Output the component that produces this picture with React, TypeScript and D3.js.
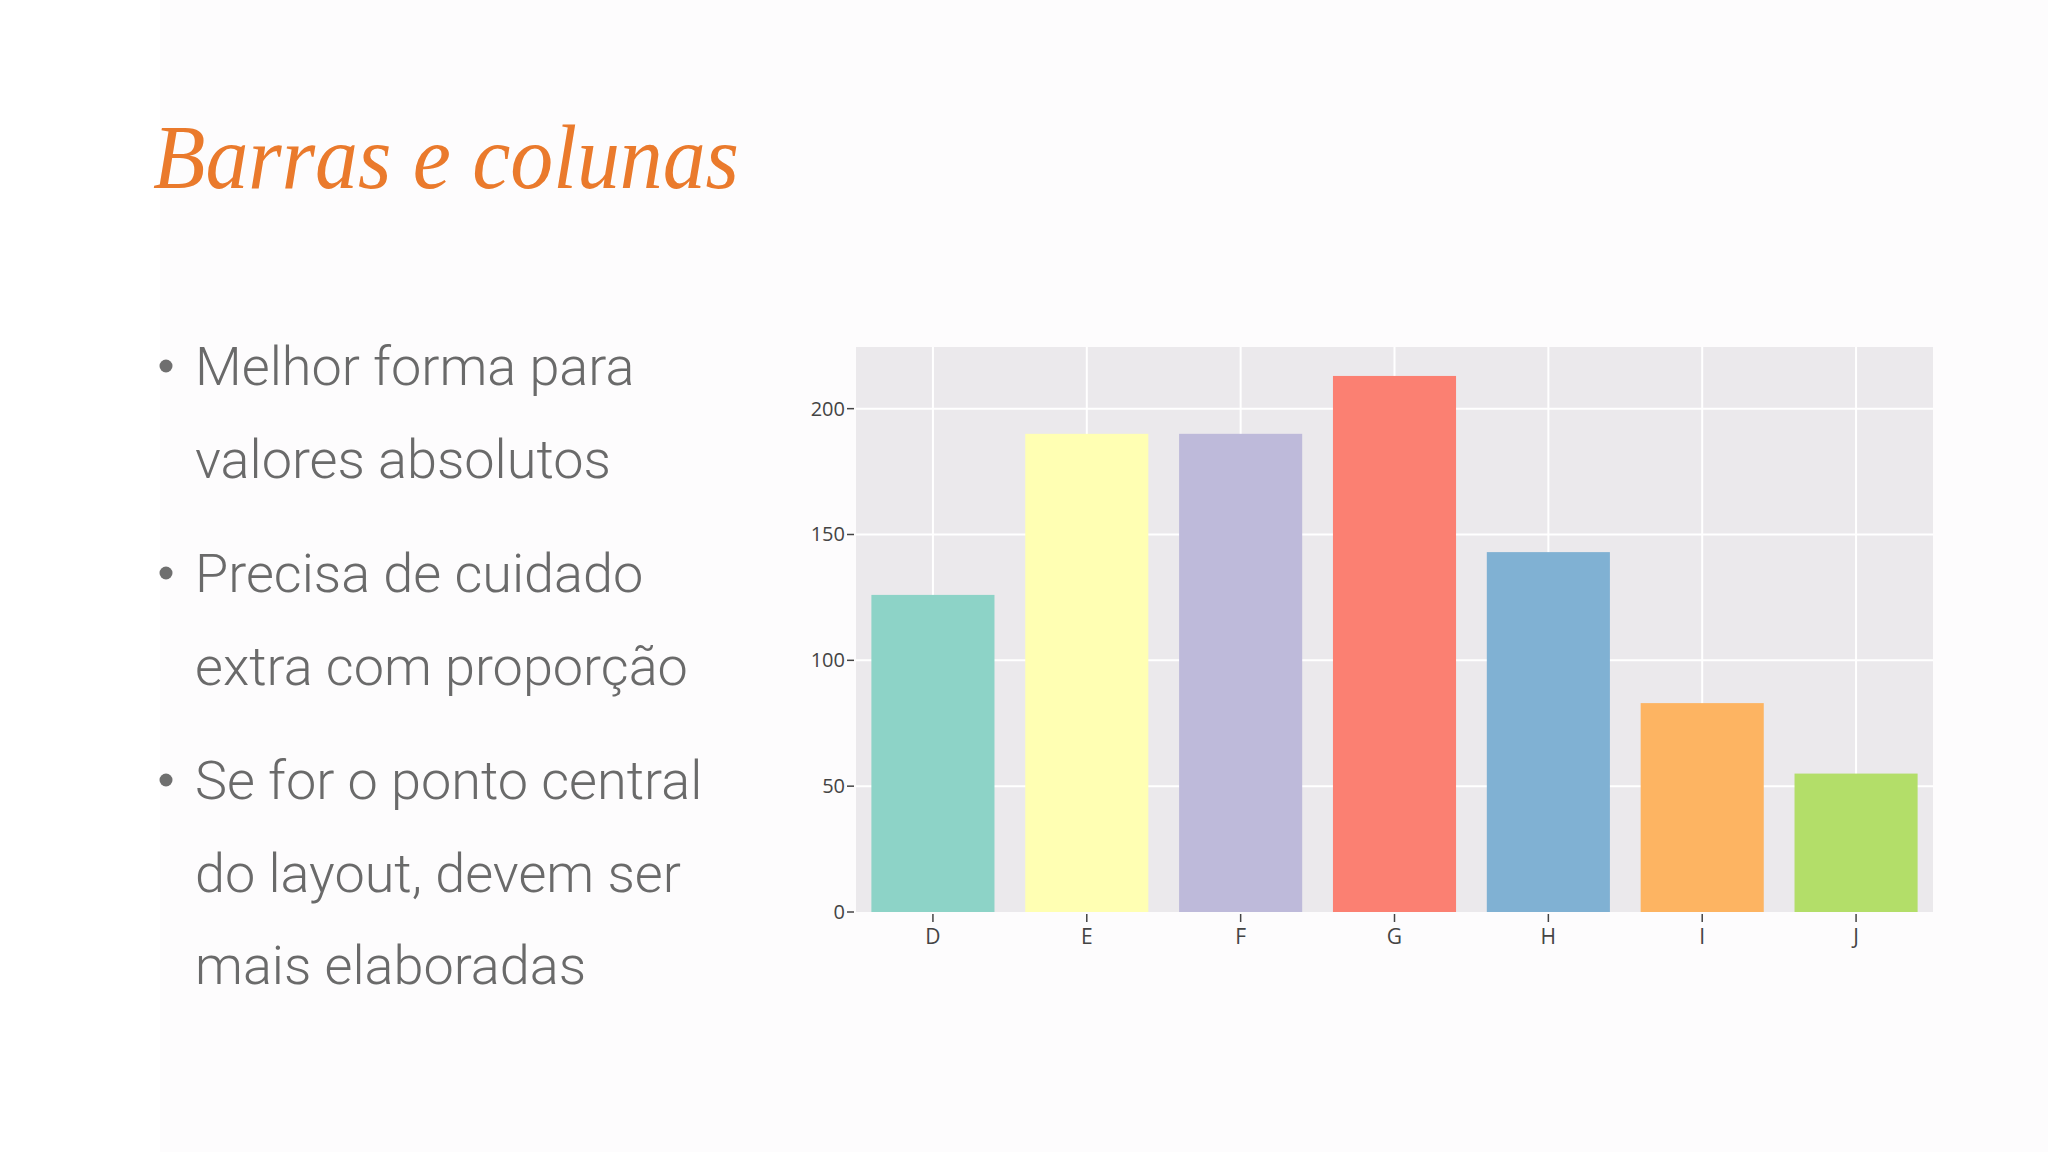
import * as d3 from "d3";

// chart data
const categories = ["D", "E", "F", "G", "H", "I", "J"];
const values = [126, 190, 190, 213, 143, 83, 55];
const barColors = d3.schemeSet3.slice(0, 7);
const yTicks = [0, 50, 100, 150, 200];

// slide text
const title = "Barras e colunas";
const bullets = [
  ["Melhor forma para", "valores absolutos"],
  ["Precisa de cuidado", "extra com proporção"],
  ["Se for o ponto central", "do layout, devem ser", "mais elaboradas"],
];

const W = 2048;
const H = 1152;
const plot = { left: 856, right: 1933, top: 347, bottom: 912 };

function App() {
  const x = d3
    .scaleBand()
    .domain(categories)
    .range([plot.left, plot.right])
    .paddingInner(0.2)
    .paddingOuter(0.1);
  const y = d3.scaleLinear().domain([0, 224.5]).range([plot.bottom, plot.top]);

  // bullet line positions
  const lines = [];
  let base = 385;
  bullets.forEach((b) => {
    b.forEach((t, i) => {
      lines.push({ text: t, y: base, dot: i === 0 });
      base += 92.5;
    });
    base += 22;
  });

  return (
    <svg
      width={W}
      height={H}
      style={{ position: "absolute", left: 0, top: 0, background: "#ffffff" }}
    >
      <rect x={160} y={0} width={W - 160} height={H} fill="#fdfcfd" />

      <text
        x={153}
        y={188}
        fill="#ea7a2c"
        fontFamily="'Liberation Serif', serif"
        fontStyle="italic"
        fontSize={92}
        textLength={586}
        lengthAdjust="spacingAndGlyphs"
      >
        {title}
      </text>

      {lines.map((l, i) => (
        <g key={i}>
          {l.dot && <circle cx={166} cy={l.y - 19} r={6.5} fill="#6f6f6f" />}
          <text
            x={195}
            y={l.y}
            fill="#6a6a6a"
            fontFamily="Roboto, sans-serif"
            fontWeight={300}
            fontSize={54}
          >
            {l.text}
          </text>
        </g>
      ))}

      {/* plot */}
      <rect
        x={plot.left}
        y={plot.top}
        width={plot.right - plot.left}
        height={plot.bottom - plot.top}
        fill="#ebe9ec"
      />
      {yTicks.slice(1).map((t) => (
        <line
          key={"h" + t}
          x1={plot.left}
          x2={plot.right}
          y1={y(t)}
          y2={y(t)}
          stroke="#ffffff"
          strokeWidth={2}
        />
      ))}
      {categories.map((c) => (
        <line
          key={"v" + c}
          x1={x(c) + x.bandwidth() / 2}
          x2={x(c) + x.bandwidth() / 2}
          y1={plot.top}
          y2={plot.bottom}
          stroke="#ffffff"
          strokeWidth={2}
        />
      ))}
      {categories.map((c, i) => (
        <rect
          key={"b" + c}
          x={x(c)}
          y={y(values[i])}
          width={x.bandwidth()}
          height={y(0) - y(values[i])}
          fill={barColors[i]}
        />
      ))}

      {/* y axis */}
      {yTicks.map((t) => (
        <g key={"yt" + t} transform={`translate(0,${y(t)})`}>
          <line x1={plot.left - 9} x2={plot.left - 2} stroke="#444" strokeWidth={1.5} />
          <text
            x={plot.left - 11}
            dy="0.35em"
            textAnchor="end"
            fill="#444"
            fontFamily="'Open Sans', sans-serif"
            fontSize={20}
          >
            {t}
          </text>
        </g>
      ))}

      {/* x axis */}
      {categories.map((c) => (
        <g key={"xt" + c} transform={`translate(${x(c) + x.bandwidth() / 2},0)`}>
          <line y1={plot.bottom + 2} y2={plot.bottom + 10} stroke="#444" strokeWidth={1.5} />
          <text
            y={944}
            textAnchor="middle"
            fill="#444"
            fontFamily="'Open Sans', sans-serif"
            fontSize={21}
          >
            {c}
          </text>
        </g>
      ))}
    </svg>
  );
}

export default App;
